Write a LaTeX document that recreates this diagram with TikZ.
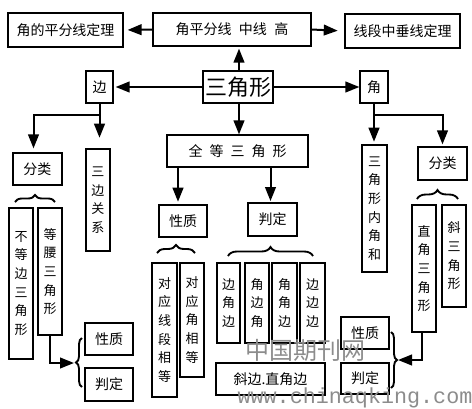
\documentclass[tikz,border=0pt]{standalone}
\usepackage{fontspec}
\setmainfont{Noto Sans CJK SC}
\newfontfamily\wmmono{Liberation Mono}
\usetikzlibrary{arrows.meta,decorations.pathreplacing}
\tikzset{
 bx/.style={draw, line width=0.9pt, inner sep=0pt, font=\fontsize{10.5pt}{12pt}\selectfont},
 vb/.style={bx, align=center, font=\fontsize{9.75pt}{14pt}\selectfont},
 wh/.style 2 args={minimum width=#1*0.75pt, minimum height=#2*0.75pt},
 arr/.style={line width=1.5pt, -{Triangle[length=10.5pt,width=8pt]}},
 ln/.style={line width=1.5pt},
 brc/.style={decorate, decoration={brace, amplitude=#1*0.75pt}, line width=1.4pt},
 wm/.style={text=black!45, inner sep=0pt},
}
\begin{document}
\begin{tikzpicture}[x=0.75pt,y=-0.75pt]
\useasboundingbox (0,0) rectangle (472,408);
% top row
\node[bx, wh={115}{34}] (angthm) at (65.5,30) {角的平分线定理};
\node[bx, wh={158}{33}] (mid) at (232,29.5) {角平分线\hspace{5.5pt}中线\hspace{5.5pt}高};
\node[bx, wh={115}{34}] (segthm) at (402.5,31) {线段中垂线定理};
% second row
\node[bx, wh={70}{32}, font=\fontsize{16.5pt}{18pt}\selectfont] (tri) at (238,87) {三角形};
\node[bx, wh={27}{32}] (bian) at (99.5,87) {边};
\node[bx, wh={28}{32}] (jiao) at (374,87) {角};
% left branch
\node[bx, wh={49}{32}] (fl1) at (37.5,169) {分类};
\node[vb, wh={24}{102}] (sbgx) at (98,200) {三\\边\\关\\系};
\node[vb, wh={24}{151}] (bdb) at (21,283.5) {不\\等\\边\\三\\角\\形};
\node[vb, wh={24}{127}] (dy) at (50,271.5) {等\\腰\\三\\角\\形};
\node[bx, wh={48}{32}] (xz1) at (109,339) {性质};
\node[bx, wh={48}{33}] (pd1) at (109,384.5) {判定};
% middle branch
\node[bx, wh={141}{32}] (qd) at (237.5,151) {全\hspace{5.25pt}等\hspace{5.25pt}三\hspace{5.25pt}角\hspace{5.25pt}形};
\node[bx, wh={48}{32}] (xz2) at (183,221) {性质};
\node[bx, wh={49}{33}] (pd2) at (272.5,219.5) {判定};
\node[vb, wh={25}{134}] (dyxd) at (164.5,330) {对\\应\\线\\段\\相\\等};
\node[vb, wh={24}{114}] (dyj) at (192,320) {对\\应\\角\\相\\等};
\node[vb, wh={23}{80}] (bjb) at (228.5,303) {边\\角\\边};
\node[vb, wh={24}{80}] (jbj) at (257,303) {角\\边\\角};
\node[vb, wh={25}{80}] (jjb) at (284.5,303) {角\\角\\边};
\node[vb, wh={25}{80}] (bbb) at (312.5,303) {边\\边\\边};
\node[bx, wh={109}{32}] (hl) at (270.5,379) {斜边.直角边};
% right branch
\node[vb, wh={25}{127}] (njh) at (374.5,208.5) {三\\角\\形\\内\\角\\和};
\node[bx, wh={49}{33}] (fl2) at (442.5,163.5) {分类};
\node[vb, wh={24}{127}] (zj) at (424,268.5) {直\\角\\三\\角\\形};
\node[vb, wh={24}{102}] (xsj) at (454,256) {斜\\三\\角\\形};
\node[bx, wh={48}{32}] (xz3) at (365,333) {性质};
\node[bx, wh={48}{31}] (pd3) at (365,378.5) {判定};
% connectors top
\draw[arr, shorten >=3pt] (mid.west) -- (angthm.east);
\draw[arr, shorten >=5pt] (mid.east) -- (segthm.west);
\draw[arr, shorten >=1.5pt] ([xshift=0.75pt]tri.north) -- ([xshift=0.75pt]tri.north |- mid.south);
\draw[arr, shorten >=1.5pt] (tri.west) -- (bian.east);
\draw[arr] (tri.east) -- (jiao.west);
\draw[arr] ([xshift=0.75pt]tri.south) -- ([xshift=0.75pt]tri.south |- qd.north);
% left branch connectors
\coordinate (bj) at (99.5,115);
\draw[arr, shorten >=8pt] (bian.south) -- (bian.south |- sbgx.north);
\draw[arr, shorten >=3pt] (bj) -| ([xshift=-3pt]fl1.north);
\draw[brc=7] (15,202) -- (55,202);
\coordinate (lt) at (74,363);
\draw[arr] (dy.south) |- (lt);
\draw[brc=6] (82,387) -- (82,338);
% middle connectors
\draw[arr, shorten >=2pt] ([xshift=-3.75pt]xz2.north |- qd.south) -- ([xshift=-3.75pt]xz2.north);
\draw[arr, shorten >=1pt] ([xshift=-1.5pt]pd2.north |- qd.south) -- ([xshift=-1.5pt]pd2.north);
\draw[brc=8] (157,253) -- (195,253);
\draw[brc=9] (228,256) -- (313,256);
% right branch connectors
\coordinate (rj) at (374,115);
\draw[arr, shorten >=2pt] (jiao.south) -- (jiao.south |- njh.north);
\draw[arr, shorten >=1.5pt] (rj) -| (fl2.north);
\draw[brc=9] (417,199) -- (458,199);
\coordinate (rt) at (398,360);
\draw[arr] ([xshift=-1.5pt]zj.south) |- (rt);
\draw[brc=6] (391,332) -- (391,388);
% watermark
\node[wm, font=\fontsize{18pt}{20pt}\selectfont] (wm1) at (305,350) {中国期刊网};
\node[wm, font=\wmmono\fontsize{16.3pt}{18pt}\selectfont] (wm2) at (355,398) {www.chinaqking.com};
\end{tikzpicture}
\end{document}
